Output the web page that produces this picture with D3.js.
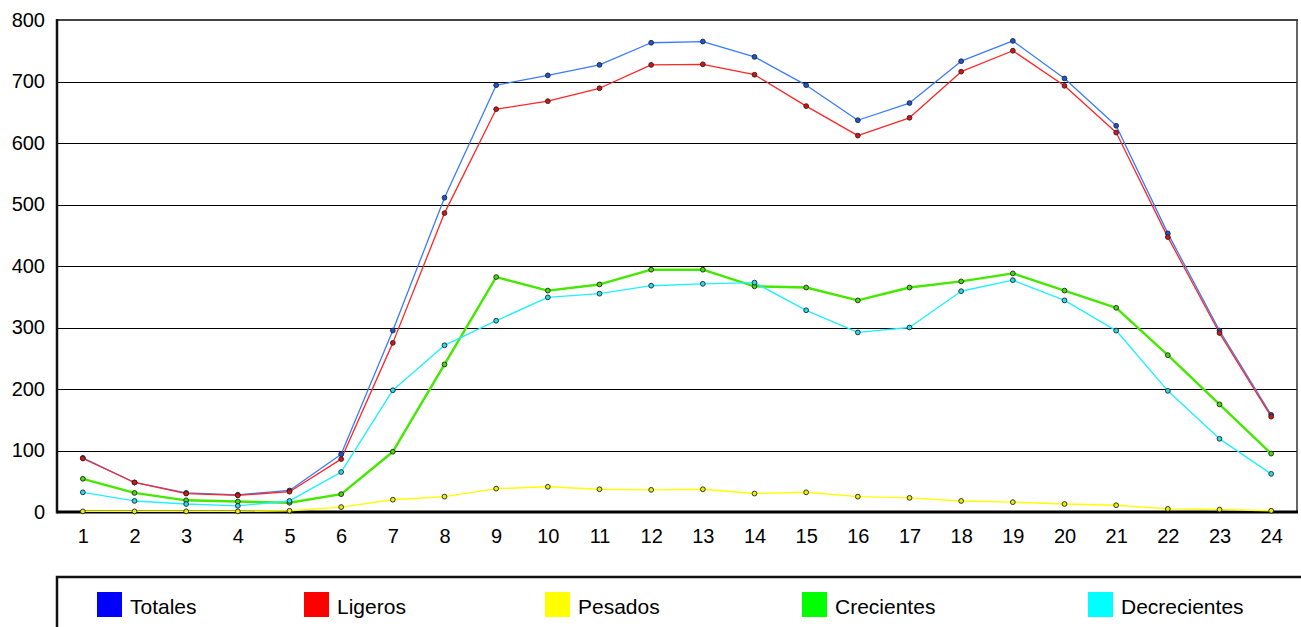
<!DOCTYPE html>
<html>
<head>
<meta charset="utf-8">
<script src="https://cdn.jsdelivr.net/npm/d3@7"></script>
<style>
  html, body { margin: 0; padding: 0; background: #fff; }
  svg { display: block; font-family: "Liberation Sans", Arial, sans-serif; }
</style>
</head>
<body>
<svg id="chart" width="1301" height="627"></svg>
<script>
const hours = [1,2,3,4,5,6,7,8,9,10,11,12,13,14,15,16,17,18,19,20,21,22,23,24];
const yTicks = [0,100,200,300,400,500,600,700,800];

const totales      = [88,48,31,28,35,94,295,511,694,710,727,763,765,740,694,637,665,733,766,705,628,453,295,158];
const ligeros      = [87,48,30,27,33,86,275,486,655,668,689,727,728,711,660,612,641,716,750,693,617,447,291,155];
const pesados      = [1,1,1,1,2,8,20,25,38,41,37,36,37,30,32,25,23,18,16,13,11,5,4,2];
const crecientes   = [54,31,19,17,15,29,98,240,382,360,370,394,394,367,365,344,365,375,388,360,332,255,175,95];
const decrecientes = [32,18,13,10,18,65,198,271,311,349,355,368,371,373,328,292,300,359,377,344,295,197,119,62];

const seriesNames  = ["Totales","Ligeros","Pesados","Crecientes","Decrecientes"];
const legendColors = ["#0000ff","#ff0000","#ffff00","#00ff00","#00ffff"];

const svg = d3.select("#chart");
const L = 57, R = 1297, T = 20, B = 512;

const x = d3.scalePoint().domain(hours).range([L, R]).padding(0.5);
const y = d3.scaleLinear().domain([0, 800]).range([B, T]);

// gridlines
svg.append("g").selectAll("line").data(yTicks.filter(v => v > 0 && v < 800)).join("line")
  .attr("x1", L).attr("x2", R)
  .attr("y1", d => Math.round(y(d)) + 0.5).attr("y2", d => Math.round(y(d)) + 0.5)
  .attr("stroke", "#000").attr("stroke-width", 1);

// frame
svg.append("line").attr("x1", L).attr("x2", R + 1).attr("y1", T).attr("y2", T)
  .attr("stroke", "#444").attr("stroke-width", 2);
svg.append("line").attr("x1", R).attr("x2", R).attr("y1", T).attr("y2", B)
  .attr("stroke", "#333").attr("stroke-width", 1.5);

// y axis labels
const yAxis = d3.axisLeft(y).tickValues(yTicks).tickSize(0).tickPadding(12);
const gy = svg.append("g").attr("transform", `translate(${L},0)`).call(yAxis);
gy.select(".domain").remove();
gy.selectAll("text").attr("font-size", 20).attr("fill", "#000")
  .attr("font-family", "Liberation Sans, Arial, sans-serif");

// x axis labels
const xAxis = d3.axisBottom(x).tickSize(0).tickPadding(17);
const gx = svg.append("g").attr("transform", `translate(0,${B})`).call(xAxis);
gx.select(".domain").remove();
gx.selectAll("text").attr("font-size", 20).attr("fill", "#000")
  .attr("font-family", "Liberation Sans, Arial, sans-serif");

// axis lines
svg.append("line").attr("x1", L).attr("x2", L).attr("y1", T - 1).attr("y2", B + 1.5)
  .attr("stroke", "#111").attr("stroke-width", 2.5);
svg.append("line").attr("x1", L).attr("x2", R + 1).attr("y1", B).attr("y2", B)
  .attr("stroke", "#000").attr("stroke-width", 3);

// series
const series = [
  { values: totales,      line: "#3a7bff", dot: "#1a55dd", w: 1.3 },
  { values: ligeros,      line: "#ff2626", dot: "#dd1111", w: 1.3 },
  { values: crecientes,   line: "#44e800", dot: "#44dd00", w: 2.4 },
  { values: decrecientes, line: "#22f0ff", dot: "#22ddee", w: 1.4 },
  { values: pesados,      line: "#ffff00", dot: "#eeee00", w: 1.4 }
];

const lineGen = d3.line().x((d, i) => x(hours[i])).y(d => y(d));

series.forEach(s => {
  svg.append("path").datum(s.values)
    .attr("d", lineGen).attr("fill", "none")
    .attr("stroke", s.line).attr("stroke-width", s.w)
    .attr("stroke-linejoin", "round");
});
series.forEach(s => {
  svg.append("g").selectAll("circle").data(s.values).join("circle")
    .attr("cx", (d, i) => x(hours[i])).attr("cy", d => y(d))
    .attr("r", 2.4).attr("fill", s.dot)
    .attr("stroke", "#222").attr("stroke-width", 0.9);
});

// legend
svg.append("rect").attr("x", 57).attr("y", 577).attr("width", 1300).attr("height", 100)
  .attr("fill", "none").attr("stroke", "#111").attr("stroke-width", 2.5);

const legendX = [97, 304, 545, 802, 1088];
const lg = svg.append("g").selectAll("g").data(seriesNames).join("g")
  .attr("transform", (d, i) => `translate(${legendX[i]},592)`);
lg.append("rect").attr("width", 25).attr("height", 25)
  .attr("fill", (d, i) => legendColors[i]);
lg.append("text").attr("x", 33).attr("y", 22).attr("font-size", 21)
  .attr("fill", "#000").text(d => d);
</script>
</body>
</html>
